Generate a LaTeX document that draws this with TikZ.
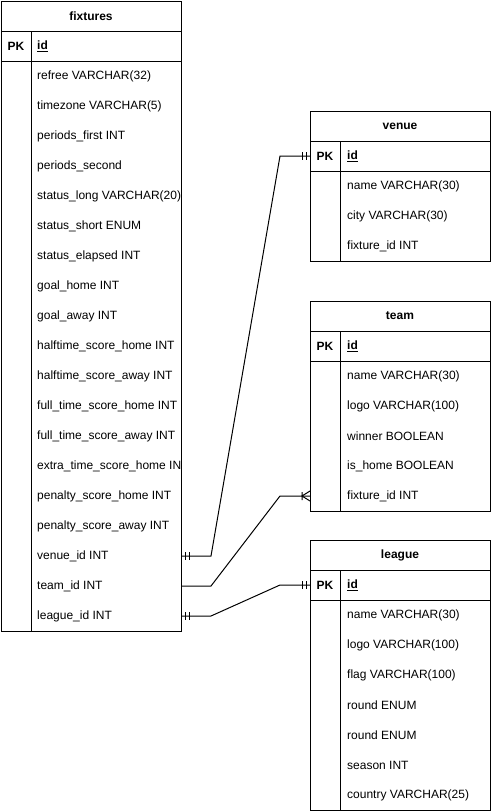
\documentclass[tikz,border=0pt]{standalone}
\usepackage{fontspec}
\setmainfont{Liberation Sans}
\usetikzlibrary{calc}

\tikzset{
  tbl/.style={draw, line width=1pt, minimum width=180pt, anchor=north west, outer sep=0pt, inner sep=0pt},
  rule/.style={line width=1pt},
  link/.style={line width=1pt},
  title/.style={font=\bfseries\fontsize{12}{14}\selectfont, inner sep=0pt},
  pk/.style={font=\bfseries\fontsize{12}{14}\selectfont, inner sep=0pt},
  field/.style={anchor=west, font=\fontsize{12}{14}\selectfont, inner sep=0pt},
  mandone/.pic={\draw[link] (4,-4) -- (4,4) (8,-4) -- (8,4);},
  manyone/.pic={\draw[link] (8,-4) -- (8,4) (0,-5) -- (8,0) -- (0,5);},
}

\begin{document}
\begin{tikzpicture}[x=1pt, y=-1pt]
            \useasboundingbox (0,0) rectangle (491,811);

            % Fixtures
            \node[tbl, minimum height=630pt] (fixtures) at (1,1) {};
            \draw[rule] (1,31) -- (181,31);
            \draw[rule] (1,61) -- (181,61);
            \draw[rule] (31,31) -- (31,631);
            \node[title] (fx-title) at (91,16) {fixtures};
            \node[pk] (fx-pk) at (16,46) {PK};
            \node[field] (fx-id) at (37,46) {\underline{\textbf{id}}};
            \begin{scope}
            \clip (1,1) rectangle (180.5,631);
            \foreach \f [count=\i] in {refree VARCHAR(32), timezone VARCHAR(5),
                periods\_first INT, periods\_second, status\_long VARCHAR(20),
                status\_short ENUM, status\_elapsed INT, goal\_home INT,
                goal\_away INT, halftime\_score\_home INT, halftime\_score\_away INT,
                full\_time\_score\_home INT, full\_time\_score\_away INT,
                extra\_time\_score\_home INT, penalty\_score\_home INT,
                penalty\_score\_away INT, venue\_id INT, team\_id INT, league\_id INT} {
                \node[field] (fx-\i) at (37,46+30*\i) {\f};
            }
            \end{scope}

            % Venue
            \node[tbl, minimum height=150pt] (venue) at (310,111) {};
            \draw[rule] (310,141) -- (490,141);
            \draw[rule] (310,171) -- (490,171);
            \draw[rule] (340,141) -- (340,261);
            \node[title] (ve-title) at (400,126) {venue};
            \node[pk] (ve-pk) at (325,156) {PK};
            \node[field] (ve-id) at (347,156) {\underline{\textbf{id}}};
            \foreach \f [count=\i] in {name VARCHAR(30), city VARCHAR(30), fixture\_id INT} {
                \node[field] (ve-\i) at (347,156+30*\i) {\f};
            }

            % Team
            \node[tbl, minimum height=210pt] (team) at (310,301) {};
            \draw[rule] (310,331) -- (490,331);
            \draw[rule] (310,361) -- (490,361);
            \draw[rule] (340,331) -- (340,511);
            \node[title] (tm-title) at (400,316) {team};
            \node[pk] (tm-pk) at (325,346) {PK};
            \node[field] (tm-id) at (347,346) {\underline{\textbf{id}}};
            \foreach \f [count=\i] in {name VARCHAR(30), logo VARCHAR(100),
                winner BOOLEAN, is\_home BOOLEAN, fixture\_id INT} {
                \node[field] (tm-\i) at (347,346+30*\i) {\f};
            }

            % League
            \node[tbl, minimum height=270pt] (league) at (310,540) {};
            \draw[rule] (310,570) -- (490,570);
            \draw[rule] (310,600) -- (490,600);
            \draw[rule] (340,570) -- (340,810);
            \node[title] (lg-title) at (400,555) {league};
            \node[pk] (lg-pk) at (325,585) {PK};
            \node[field] (lg-id) at (347,585) {\underline{\textbf{id}}};
            \foreach \f [count=\i] in {name VARCHAR(30), logo VARCHAR(100),
                flag VARCHAR(100), round ENUM, round ENUM, season INT,
                country VARCHAR(25)} {
                \node[field] (lg-\i) at (347,585+30*\i) {\f};
            }

            % Relations
            \draw[link] (fixtures.east |- fx-17) -- ++(30,0)
                -- ($(venue.west |- ve-pk)+(-30,0)$) -- (venue.west |- ve-pk);
            \draw[link] (fixtures.east |- fx-18) -- ++(30,0)
                -- ($(team.west |- tm-5)+(-30,0)$) -- (team.west |- tm-5);
            \draw[link] (fixtures.east |- fx-19) -- ++(30,0)
                -- ($(league.west |- lg-pk)+(-30,0)$) -- (league.west |- lg-pk);

            % Ends
            \pic at (fixtures.east |- fx-17) {mandone};
            \pic at (fixtures.east |- fx-19) {mandone};
            \pic[xscale=-1] at (venue.west |- ve-pk) {mandone};
            \pic[xscale=-1] at (league.west |- lg-pk) {mandone};
            \pic[xscale=-1] at (team.west |- tm-5) {manyone};

\end{tikzpicture}
\end{document}
